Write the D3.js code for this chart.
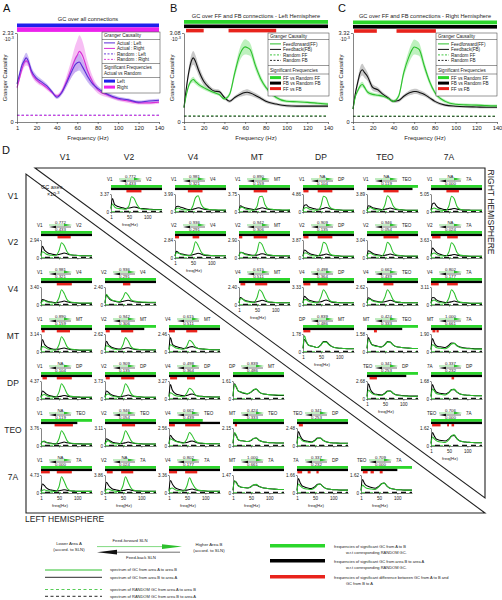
<!DOCTYPE html>
<html><head><meta charset="utf-8">
<script src="https://cdn.jsdelivr.net/npm/d3@7"></script>
<style>body{margin:0;background:#fff}svg{font-family:"Liberation Sans",Arial,Helvetica,sans-serif}</style>
</head><body><svg id="c" width="502" height="600"></svg>
<script>
// ---------- DATA: panels A-C ----------
const topFreqs = [1,3,6,8,10,12,15,20,25,30,35,40,45,50,55,58,60,62,65,70,75,80,90,100,110,120,130,140];
const aLeft   = [1.0,1.2,1.5,1.6,1.68,1.6,1.35,1.15,1.05,0.95,0.8,0.65,0.78,1.05,1.35,1.5,1.55,1.57,1.45,1.2,1.0,0.88,0.72,0.62,0.58,0.52,0.55,0.57];
const aLeftCI = [0.05,0.08,0.1,0.12,0.13,0.12,0.1,0.08,0.07,0.06,0.05,0.05,0.06,0.1,0.15,0.2,0.22,0.22,0.2,0.15,0.1,0.07,0.05,0.05,0.04,0.04,0.04,0.04];
const aRight  = [0.9,1.1,1.4,1.55,1.6,1.55,1.3,1.1,1.0,0.9,0.78,0.68,0.8,1.1,1.45,1.65,1.75,1.85,1.75,1.35,1.05,0.85,0.7,0.6,0.55,0.5,0.5,0.52];
const aRightCI= [0.05,0.07,0.1,0.12,0.12,0.1,0.08,0.07,0.06,0.06,0.05,0.05,0.08,0.15,0.25,0.35,0.4,0.42,0.38,0.25,0.15,0.1,0.06,0.05,0.05,0.04,0.04,0.04];
const randFreqs = [1,140];
const aRandLeft = [0.18,0.18], aRandRight = [0.17,0.17];

const bFF   = [0.5,0.9,1.3,1.42,1.47,1.4,1.3,1.19,1.1,1.02,0.95,0.8,0.96,1.7,2.35,2.55,2.6,2.58,2.5,1.95,1.5,1.2,0.85,0.72,0.7,0.68,0.65,0.62];
const bFFci = [0.04,0.06,0.08,0.09,0.1,0.09,0.08,0.07,0.06,0.06,0.05,0.05,0.08,0.15,0.22,0.25,0.26,0.25,0.22,0.16,0.12,0.08,0.06,0.05,0.05,0.05,0.05,0.05];
const bFB   = [0.5,1.1,1.8,2.1,2.22,2.1,1.8,1.41,1.2,1.07,1.05,0.85,0.72,0.85,0.95,1.0,1.02,1.03,1.0,0.92,0.82,0.72,0.62,0.56,0.55,0.55,0.55,0.55];
const bFBci = [0.04,0.1,0.18,0.22,0.24,0.22,0.18,0.14,0.1,0.08,0.07,0.06,0.05,0.06,0.08,0.1,0.1,0.1,0.09,0.08,0.07,0.06,0.05,0.05,0.05,0.05,0.05,0.05];
const bRandFF = [0.21,0.21], bRandFB = [0.2,0.2];
const bRed = [[3,20],[44,90]];

const cFF   = [0.48,0.9,1.2,1.35,1.4,1.3,1.12,1.03,1.0,0.96,0.88,0.77,0.96,1.84,2.44,2.7,2.8,2.78,2.7,2.07,1.5,1.1,0.77,0.66,0.64,0.63,0.61,0.6];
const cFFci = [0.04,0.06,0.08,0.1,0.1,0.09,0.08,0.07,0.06,0.06,0.05,0.05,0.08,0.16,0.24,0.27,0.28,0.27,0.24,0.17,0.12,0.08,0.06,0.05,0.05,0.05,0.05,0.05];
const cFB   = [0.48,1.0,1.55,1.85,1.95,1.85,1.7,1.29,1.2,1.03,0.9,0.77,0.8,0.96,1.08,1.12,1.14,1.14,1.1,1.03,0.9,0.77,0.63,0.59,0.57,0.56,0.55,0.55];
const cFBci = [0.04,0.1,0.16,0.2,0.22,0.2,0.16,0.12,0.1,0.08,0.07,0.06,0.06,0.07,0.09,0.1,0.1,0.1,0.09,0.08,0.07,0.06,0.05,0.05,0.05,0.05,0.05,0.05];
const cRandFF = [0.22,0.22], cRandFB = [0.21,0.21];
const cRed = [[2,24],[43,81]];

// ---------- DATA: panel D ----------
const areas = ["V1","V2","V4","MT","DP","TEO","7A"];
const cellFreqs = [1,5,10,15,20,30,40,50,57,64,72,80,95,110,125,140];
const cellRow = [0,0,0,0,0,0,1,1,1,1,1,2,2,2,2,3,3,3,4,4,5, 1,2,2,3,3,3,4,4,4,4,5,5,5,5,5,6,6,6,6,6,6];
const cellCol = [1,2,3,4,5,6,2,3,4,5,6,3,4,5,6,4,5,6,5,6,6, 0,0,1,0,1,2,0,1,2,3,0,1,2,3,4,0,1,2,3,4,5];
const cellFrom = ["V1","V1","V1","V1","V1","V1","V2","V2","V2","V2","V2","V4","V4","V4","V4","DP","MT","MT","TEO","7A","TEO",
  "V1","V1","V2","V1","V2","V4","V1","V2","V4","DP","V1","V2","V4","MT","TEO","V1","V2","V4","MT","7A","TEO"];
const cellTo = ["V2","V4","MT","DP","TEO","7A","V4","MT","DP","TEO","7A","MT","DP","TEO","7A","MT","TEO","7A","DP","DP","7A",
  "V2","V4","V4","MT","MT","MT","DP","DP","DP","MT","TEO","TEO","TEO","TEO","DP","7A","7A","7A","7A","DP","7A"];
const cellSlnFF = ["0.772","0.981","0.890","NA","NA","NA","0.936","0.942","0.909","0.946","NA","0.615","0.498","0.662","0.802","0.839","0.424","1.000","0.341","0.337","0.706",
  "0.772","0.981","0.936","0.890","0.942","0.615","NA","0.909","0.498","0.839","NA","0.946","0.662","0.424","0.341","NA","NA","0.802","1.000","0.337","0.709"];
const cellSlnFB = ["0.433","0.321","0.159","0.104","0.119","0.000","0.291","0.306","0.135","0.054","0.024","0.511","0.364","0.439","0.177","0.486","0.333","0.661","0.253","0.232","0.000",
  "0.433","0.321","0.291","0.159","0.306","0.511","0.104","0.135","0.364","0.486","0.119","0.054","0.439","0.333","0.253","0.000","0.024","0.177","0.661","0.232","0.000"];
const cellYMax = ["3.37","3.99","3.75","4.86","3.89","5.05","2.84","2.90","3.87","3.04","3.63","2.40","3.33","2.62","3.11","1.78","1.58","1.90","2.68","1.68","1.62",
  "2.94","3.40","2.40","3.14","2.62","2.46","4.37","3.73","3.27","1.61","3.76","3.11","2.56","2.15","2.48","4.73","3.86","3.36","1.47","1.66","1.62"];
// spectra in percent of each cell's axis maximum
const cellFF = [
 [15,45,30,22,20,18,15,35,85,75,40,20,15,13,12,12],[8,20,22,18,14,12,10,35,80,90,45,22,14,12,11,11],
 [8,25,28,20,15,12,10,30,85,88,40,20,14,12,11,12],[5,22,25,20,15,12,10,35,88,80,35,18,12,10,10,10],
 [5,20,25,20,15,12,10,40,90,75,35,18,12,10,10,10],[5,20,22,18,14,10,8,35,88,75,30,15,10,9,9,9],
 [10,30,28,22,18,15,12,40,90,70,35,20,15,13,12,12],[10,30,30,22,18,14,12,35,88,75,35,18,14,12,12,12],
 [8,28,28,22,16,12,10,35,88,78,32,16,12,10,10,10],[8,25,28,22,16,12,10,38,88,72,32,18,13,11,11,11],
 [8,25,28,22,16,12,10,35,85,70,30,16,12,10,10,10],[10,35,35,25,20,16,14,40,85,70,35,20,15,13,12,12],
 [10,30,30,22,18,14,12,45,85,65,30,18,14,12,12,12],[10,30,32,24,20,16,14,45,85,65,30,18,14,12,12,12],
 [8,25,28,22,16,12,10,40,85,68,28,16,12,10,10,10],[20,90,60,40,35,30,25,40,55,55,40,30,22,20,18,18],
 [20,70,60,40,35,30,28,40,55,55,40,30,25,22,20,20],[10,40,35,25,22,20,18,30,45,48,35,25,20,18,16,16],
 [10,50,40,30,25,22,20,30,42,45,32,22,18,16,15,15],[10,55,45,30,28,25,22,35,50,55,38,28,22,20,18,18],
 [10,50,40,30,25,22,20,35,55,62,40,28,22,20,18,18],
 [10,35,30,22,18,15,12,40,85,70,35,20,15,13,12,12],[8,22,25,20,16,12,10,40,85,65,30,18,13,11,11,11],
 [10,60,45,35,28,22,18,40,70,55,30,22,18,16,15,15],[8,30,28,22,16,12,10,40,85,65,30,18,13,11,11,11],
 [10,35,32,25,20,15,12,40,80,62,30,18,14,12,12,12],[10,40,35,28,22,18,15,35,65,55,30,20,16,14,13,13],
 [5,22,25,20,15,12,10,38,85,65,30,16,12,10,10,10],[8,25,28,22,16,12,10,38,85,65,30,16,12,10,10,10],
 [10,35,30,22,18,15,12,35,60,50,25,16,13,11,11,11],[15,80,70,45,40,35,30,38,52,55,40,30,25,22,22,22],
 [8,25,28,22,16,12,10,40,85,65,30,17,13,11,11,11],[8,25,30,22,16,12,10,40,85,62,30,17,13,11,11,11],
 [10,40,35,30,25,20,16,40,75,58,30,20,15,13,12,12],[15,75,60,35,30,28,25,32,42,45,32,25,20,18,17,17],
 [10,50,42,30,25,22,20,30,42,45,32,24,18,16,15,15],[5,15,18,14,12,10,8,35,90,65,28,14,10,9,9,9],
 [5,20,22,18,14,10,8,40,90,60,28,15,11,10,10,10],[8,25,28,22,16,12,10,40,85,55,28,16,12,10,10,10],
 [15,70,55,40,35,30,28,35,45,48,38,30,25,22,20,20],[10,50,40,30,25,22,20,30,45,50,35,25,20,18,16,16],
 [10,45,35,28,25,22,20,35,50,55,38,26,20,18,16,16]];
const cellFB = [
 [20,75,45,35,30,25,20,22,25,28,25,20,18,15,14,14],[10,30,32,28,25,18,14,15,20,24,20,16,13,11,10,10],
 [10,35,30,25,22,18,14,15,20,24,20,15,13,11,10,10],[8,38,40,30,25,20,15,16,20,25,20,15,12,10,9,9],
 [8,35,32,25,22,18,14,15,18,22,18,14,12,10,9,9],[10,45,50,35,25,18,14,14,16,20,16,13,11,10,9,9],
 [12,38,30,25,22,18,15,18,22,26,22,16,14,12,12,12],[12,32,30,25,22,18,15,16,20,24,20,16,13,12,11,11],
 [10,45,38,30,24,18,14,15,18,22,18,14,12,10,10,10],[10,40,35,28,22,18,14,15,18,22,18,14,12,10,10,10],
 [12,55,45,32,25,18,14,14,16,20,16,13,11,10,10,10],[12,42,35,28,24,20,16,18,22,26,22,17,14,12,12,12],
 [12,48,40,30,25,20,16,18,24,28,22,16,14,12,12,12],[12,40,35,28,24,20,16,18,22,26,22,16,14,12,12,12],
 [10,42,40,30,24,18,14,15,18,22,18,14,12,10,10,10],[20,70,55,40,35,30,25,40,58,58,42,30,22,20,18,18],
 [20,80,55,40,38,32,28,42,58,55,40,30,25,22,20,20],[15,75,50,35,30,28,25,38,50,48,35,28,22,20,18,18],
 [15,85,55,38,30,25,22,32,45,45,32,24,20,18,16,16],[15,80,55,40,35,30,28,38,52,52,38,28,22,20,18,18],
 [15,75,55,40,35,30,28,40,55,58,40,28,22,20,18,18],
 [15,65,45,35,28,22,18,20,24,28,24,18,15,13,12,12],[10,30,28,24,20,16,13,15,18,22,18,14,12,10,10,10],
 [12,55,42,30,25,20,16,20,24,26,22,18,15,14,13,13],[12,70,45,32,25,18,15,16,20,22,18,14,12,10,10,10],
 [12,60,42,32,25,20,16,18,22,24,20,15,13,12,11,11],[15,80,45,35,30,25,20,22,28,30,25,20,16,14,13,13],
 [10,45,38,28,22,16,13,14,16,20,16,13,11,10,9,9],[10,45,38,28,22,16,13,15,18,22,18,14,12,10,10,10],
 [15,80,50,35,28,22,18,20,25,28,22,17,14,12,11,11],[15,85,65,45,40,32,28,38,50,55,40,30,25,22,20,20],
 [10,25,24,20,18,15,13,14,18,22,18,15,13,12,11,11],[10,40,35,28,22,17,14,15,18,22,18,15,13,11,11,11],
 [12,60,45,35,28,22,18,20,25,28,22,17,14,12,12,12],[15,70,55,35,30,28,25,30,42,45,32,25,20,18,17,17],
 [15,80,55,38,30,26,22,32,45,45,32,24,18,16,15,15],[10,50,42,30,22,16,12,13,15,18,15,12,10,9,9,9],
 [10,60,45,32,24,18,14,14,16,20,16,13,11,10,10,10],[12,70,50,35,26,20,15,16,20,22,18,14,12,10,10,10],
 [15,65,60,42,35,30,28,35,45,45,36,30,25,22,20,20],[15,80,55,40,35,28,25,35,48,50,35,25,20,18,16,16],
 [15,75,55,42,38,30,26,38,52,55,38,26,20,18,16,16]];
const cellRandFF = [2,2], cellRandFB = [3,3];
const cellRed = [[[43,84]],[[36,76]],[[41,78]],[[2,16],[41,81]],[[46,87]],[[43,77]],[[1,12],[49,67]],[[1,10],[41,78]],
 [[2,16],[41,81]],[[46,87]],[[4,27],[45,74]],[[5,18],[45,78]],[[2,21],[41,68]],[[46,73]],[[1,22],[45,74]],[[2,21]],
 [[20,28]],[[5,13],[16,22]],[[8,28]],[[57,64]],[[4,27],[45,50],[57,64]],
 [[46,82]],[[44,85]],[[50,70]],[[3,11],[44,80]],[[3,14],[45,78]],[[1,17],[48,78]],[[5,17],[44,85]],[[3,14],[45,81]],
 [[4,23],[50,72]],[],[[38,88]],[[47,83]],[[1,17],[45,86]],[[6,12]],[[6,17]],[[1,25],[44,85]],[[6,22],[45,78]],
 [[1,23],[45,78]],[],[[2,15],[30,38],[54,60]],[[6,19],[27,36],[52,60]]];
const cellGreenEnd = [140,140,140,140,140,140,140,140,140,140,140,140,140,140,140,140,140,140,140,140,140,
 140,140,140,140,140,140,140,140,140,140,140,140,93,140,140,140,140,140,140,140,140];
const cellBlackEnd = [140,140,140,140,125,140,140,140,140,140,140,140,140,140,140,140,97,140,108,140,140,
 140,140,140,140,108,140,140,140,140,140,100,140,140,140,140,140,140,140,140,140,100];

// ---------- DRAWING ----------
const svg = d3.select("#c");
const GREEN = "#2cc02c", GBAR = "#2bd62b", RED = "#e8231c", PURP = "#5a2bd8", MAG = "#d62ed6";
function T(x,y,s,size,anchor,fill){return svg.append("text").attr("x",x).attr("y",y).attr("font-size",size)
  .attr("text-anchor",anchor||"start").attr("fill",fill||"#222").text(s);}
function L(x1,y1,x2,y2,col,w,dash){const l=svg.append("line").attr("x1",x1).attr("y1",y1).attr("x2",x2).attr("y2",y2)
  .attr("stroke",col||"#222").attr("stroke-width",w||0.6); if(dash) l.attr("stroke-dasharray",dash); return l;}
function R(x,y,w,h,col){return svg.append("rect").attr("x",x).attr("y",y).attr("width",w).attr("height",h).attr("fill",col);}
function styleAxis(g,fs){g.selectAll("path,line").attr("stroke","#333").attr("stroke-width",0.6);
  g.selectAll("text").attr("font-size",fs).attr("fill","#222").attr("font-family",null);}

function topPanel(o){
  const x = d3.scaleLinear([1,140],[o.x0,o.x1]);
  const y = d3.scaleLinear([0,o.ymax],[122,33]);
  T(o.lx,12,o.label,11,"start","#111");
  T((o.x0+o.x1)/2,o.ty,o.title,5.7,"middle");
  o.bars.forEach(b=>b.ranges.forEach(r=>R(x(r[0]),b.y,x(r[1])-x(r[0]),b.h,b.color)));
  o.series.forEach(s=>{
    const ar = d3.area().x((d,i)=>x(topFreqs[i])).y0((d,i)=>y(d-s.ci[i])).y1((d,i)=>y(d+s.ci[i])).curve(d3.curveMonotoneX);
    svg.append("path").attr("d",ar(s.v)).attr("fill",s.band).attr("opacity",0.75);
  });
  o.series.forEach(s=>{
    const ln = d3.line().x((d,i)=>x(topFreqs[i])).y(d=>y(d)).curve(d3.curveMonotoneX);
    svg.append("path").attr("d",ln(s.v)).attr("fill","none").attr("stroke",s.color).attr("stroke-width",1.1);
  });
  o.random.forEach(s=>{
    const ln = d3.line().x((d,i)=>x(randFreqs[i])).y(d=>y(d));
    svg.append("path").attr("d",ln(s.v)).attr("fill","none").attr("stroke",s.color).attr("stroke-width",0.8).attr("stroke-dasharray","2.5,2");
  });
  const gx = svg.append("g").attr("transform","translate(0,122)")
    .call(d3.axisBottom(x).tickValues([1,20,40,60,80,100,120,140]).tickSizeInner(2).tickSizeOuter(0).tickPadding(2));
  styleAxis(gx,5.8);
  const gy = svg.append("g").attr("transform",`translate(${o.x0},0)`)
    .call(d3.axisLeft(y).tickValues([0,o.ymax]).tickFormat(d=>d?o.ymax.toFixed(2):"0").tickSizeInner(2).tickSizeOuter(0).tickPadding(1.5));
  styleAxis(gy,5.6);
  const e = T(o.x0-3,41,"·10",5,"end"); e.append("tspan").attr("dy",-2).attr("font-size",3.8).text("-3");
  T((o.x0+o.x1)/2,139.5,"Frequency (Hz)",6,"middle");
  svg.append("text").attr("transform",`translate(${o.x0-10},78) rotate(-90)`).attr("font-size",5.8)
    .attr("text-anchor","middle").attr("fill","#222").text("Granger Causality");
  const lg=o.legend;
  svg.append("rect").attr("x",lg.x0).attr("y",lg.y0).attr("width",lg.x1-lg.x0).attr("height",lg.y1-lg.y0)
    .attr("fill","#fff").attr("stroke","#333").attr("stroke-width",0.5);
  lg.rows.forEach(r=>{
    if(r.sep!==undefined){L(lg.x0,r.sep,lg.x1,r.sep,"#333",0.5);return;}
    if(r.k==="line") L(lg.x0+2,r.y-1.6,lg.x0+13,r.y-1.6,r.c,1);
    if(r.k==="dash") L(lg.x0+2,r.y-1.6,lg.x0+13,r.y-1.6,r.c,0.9,"2,1.5");
    if(r.k==="bar") R(lg.x0+2,r.y-3.4,11,3,r.c);
    T(lg.x0+(r.k?15:2),r.y,r.t,4.6);
  });
}
topPanel({x0:17,x1:159,ymax:2.33,lx:3,label:"A",ty:21,title:"GC over all connections",
  bars:[{color:"#2020ec",y:23.5,h:3.8,ranges:[[1,140]]},{color:"#ec22ec",y:27.3,h:4.6,ranges:[[1,140]]}],
  series:[{v:aRight,ci:aRightCI,color:MAG,band:"#f4a8f0"},{v:aLeft,ci:aLeftCI,color:PURP,band:"#b9a5f0"}],
  random:[{v:aRandLeft,color:PURP},{v:aRandRight,color:MAG}],
  legend:{x0:102,x1:160,y0:32,y1:93,rows:[{t:"Granger Causality",y:37},{sep:39.5},
    {k:"line",c:PURP,t:"Actual : Left",y:44.5},{k:"line",c:MAG,t:"Actual : Right",y:50},
    {k:"dash",c:PURP,t:"Random : Left",y:55.5},{k:"dash",c:MAG,t:"Random : Right",y:61},{sep:63.5},
    {t:"Significant Frequencies",y:69},{t:"Actual vs Random",y:75},{sep:77.5},
    {k:"bar",c:"#2020ec",t:"Left",y:83},{k:"bar",c:"#ec22ec",t:"Right",y:89}]}});
function ffLegend(x0){return {x0:x0,x1:x0+61,y0:33,y1:96,rows:[{t:"Granger Causality",y:37.5},{sep:39.5},
  {k:"line",c:GREEN,t:"Feedforward(FF)",y:45.5},{k:"line",c:"#111",t:"Feedback(FB)",y:51},
  {k:"dash",c:GREEN,t:"Random FF",y:56.5},{k:"dash",c:"#111",t:"Random FB",y:62},{sep:65.5},
  {t:"Significant Frequencies",y:71.5},{sep:74},
  {k:"bar",c:GBAR,t:"FF vs Random FF",y:79.5},{k:"bar",c:"#000",t:"FB vs Random FB",y:85},{k:"bar",c:RED,t:"FF vs FB",y:90.5}]};}
topPanel({x0:184,x1:328,ymax:3.08,lx:170,label:"B",ty:18,title:"GC over FF and FB connections - Left Hemisphere",
  bars:[{color:GBAR,y:20,h:3.8,ranges:[[1,140]]},{color:"#000",y:24.5,h:3.6,ranges:[[1,140]]},{color:RED,y:28.8,h:3.6,ranges:bRed}],
  series:[{v:bFB,ci:bFBci,color:"#111",band:"#b5b5b5"},{v:bFF,ci:bFFci,color:GREEN,band:"#a8eca8"}],
  random:[{v:bRandFF,color:GREEN},{v:bRandFB,color:"#111"}],legend:ffLegend(268)});
topPanel({x0:353,x1:497,ymax:3.32,lx:338,label:"C",ty:18,title:"GC over FF and FB connections - Right Hemisphere",
  bars:[{color:GBAR,y:20.5,h:3.8,ranges:[[1,140]]},{color:"#000",y:25,h:3.6,ranges:[[1,140]]},{color:RED,y:29.2,h:3.6,ranges:cRed}],
  series:[{v:cFB,ci:cFBci,color:"#111",band:"#b5b5b5"},{v:cFF,ci:cFFci,color:GREEN,band:"#a8eca8"}],
  random:[{v:cRandFF,color:GREEN},{v:cRandFB,color:"#111"}],legend:ffLegend(436)});

// ---------- PANEL D ----------
T(2,154,"D",11,"start","#111");
const rowBottom = [212,258,305,352,399,446,493];
const colX = d3.scalePoint().domain(areas).range([41,425]);
areas.forEach((a,i)=>{ T(colX(a)+24,160,a,8.5,"middle"); T(13,rowBottom[i]-13,a,8.5,"middle"); });
svg.append("path").attr("d","M35,168L485,168L485,498Z").attr("fill","none").attr("stroke","#222").attr("stroke-width",1.1);
svg.append("path").attr("d","M26,174L26,513L485,513Z").attr("fill","none").attr("stroke","#222").attr("stroke-width",1.1);
svg.append("text").attr("transform","translate(488,212) rotate(90)").attr("font-size",8.5).attr("text-anchor","middle").attr("fill","#222").text("RIGHT HEMISPHERE");
T(25,522,"LEFT HEMISPHERE",8.5,"start");
T(41,188.5,"GC axes",5.5,"start");
{const e=T(47,195.5,"×10",5.3,"start"); e.append("tspan").attr("dy",-2).attr("font-size",4).text("-3");}

cellRow.forEach((r,i)=>{
  const c = cellCol[i], up = c>r;
  const xs = colX(areas[c]) + (up?6:0), yb = rowBottom[r];
  const x = d3.scaleLinear([1,140],[xs,xs+51]);
  const y = d3.scaleLinear([0,100],[yb,yb-18]);
  const showX = up ? c===r+1 : r===6;
  const ay = yb-33;
  T(xs-4,ay+2,cellFrom[i],4.6,"start");
  T(xs+35,ay+2,cellTo[i],4.6,"start");
  L(xs+8,ay,xs+26,ay,GREEN,0.6);
  svg.append("path").attr("d",`M${xs+23},${ay-1.3}L${xs+31},${ay}L${xs+23},${ay+1.3}Z`).attr("fill",GREEN);
  L(xs+13,ay+2,xs+30,ay+2,"#111",0.6);
  svg.append("path").attr("d",`M${xs+15},${ay+0.7}L${xs+8},${ay+2}L${xs+15},${ay+3.3}Z`).attr("fill","#111");
  T(xs+19.5,ay-1.2,cellSlnFF[i],4.4,"middle");
  T(xs+19.5,ay+6.3,cellSlnFB[i],4.4,"middle");
  R(x(1),yb-27,x(cellGreenEnd[i])-x(1),2.8,GBAR);
  R(x(1),yb-24.2,x(cellBlackEnd[i])-x(1),2.3,"#000");
  cellRed[i].forEach(s=>R(x(s[0]),yb-22,x(s[1])-x(s[0]),2.4,RED));
  const gx = svg.append("g").attr("transform",`translate(0,${yb})`)
    .call(d3.axisBottom(x).tickValues([1,50,100]).tickSizeInner(1.5).tickSizeOuter(0).tickPadding(2.2)
    .tickFormat(d=>showX?d:""));
  styleAxis(gx,4.6);
  const gy = svg.append("g").attr("transform",`translate(${xs},0)`)
    .call(d3.axisLeft(y).tickValues([0,100]).tickSizeInner(1).tickSizeOuter(0).tickPadding(1)
    .tickFormat(d=>d?cellYMax[i]:"0"));
  styleAxis(gy,4.6);
  if(showX) T(xs+19,yb+14,"freq(Hz)",4.4,"middle");
  const rl = d3.line().x((d,k)=>x(randFreqs[k])).y(d=>y(d));
  svg.append("path").attr("d",rl(cellRandFF)).attr("stroke",GREEN).attr("stroke-width",0.8).attr("stroke-dasharray","4,4").attr("fill","none");
  svg.append("path").attr("d",rl(cellRandFB)).attr("stroke","#111").attr("stroke-width",1.3).attr("stroke-dasharray","5,4").attr("stroke-dashoffset",-4).attr("fill","none");
  const ln = d3.line().x((d,k)=>x(cellFreqs[k])).y(d=>y(d)).curve(d3.curveMonotoneX);
  svg.append("path").attr("d",ln(cellFB[i])).attr("stroke","#000").attr("stroke-width",1.05).attr("fill","none");
  svg.append("path").attr("d",ln(cellFF[i])).attr("stroke",GREEN).attr("stroke-width",1.05).attr("fill","none");
});

// ---------- bottom legend ----------
T(69,545,"Lower Area A",4.3,"middle"); T(69,551,"(accord. to SLN)",4.3,"middle");
T(209,546,"Higher Area B",4.3,"middle"); T(209,552,"(accord. to SLN)",4.3,"middle");
L(97,546.6,166,546.6,GREEN,0.6);
svg.append("path").attr("d","M162,544.2L182,546.6L162,549Z").attr("fill",GREEN);
L(115,552.2,180,552.2,"#111",0.6);
svg.append("path").attr("d","M117,549.8L97,552.2L117,554.6Z").attr("fill","#111");
T(130,542,"Feed-forward SLN",4.3,"middle"); T(141,558.5,"Feed-back SLN",4.3,"middle");
L(45,570,102,570,GREEN,1); T(110,571.2,"spectrum of GC from area A to area B",4,"start");
L(45,577.3,102,577.3,"#555",1.2); T(110,578.5,"spectrum of GC from area B to area A",4,"start");
L(45,589.5,102,589.5,GREEN,0.8,"3,2.5"); T(110,590.8,"spectrum of RANDOM GC from area A to area B",4,"start");
L(45,596.3,102,596.3,"#111",0.9,"3,2.5"); T(110,597.6,"spectrum of RANDOM GC from area B to area A",4,"start");
R(270,544,55,3.5,GBAR); R(270,559,55,3.5,"#000"); R(270,575,55,3.5,RED);
T(334,547.5,"frequencies of significant  GC from  A to B",4,"start"); T(346,553.5,"w.r.t corresponding RANDOM GC.",4,"start");
T(334,562.5,"frequencies of significant  GC from area B to area A",4,"start"); T(346,568.5,"w.r.t corresponding RANDOM GC.",4,"start");
T(334,578.5,"frequencies of significant  difference between GC from A to B and",4,"start"); T(346,584.5,"GC from B to A",4,"start");
</script></body></html>
